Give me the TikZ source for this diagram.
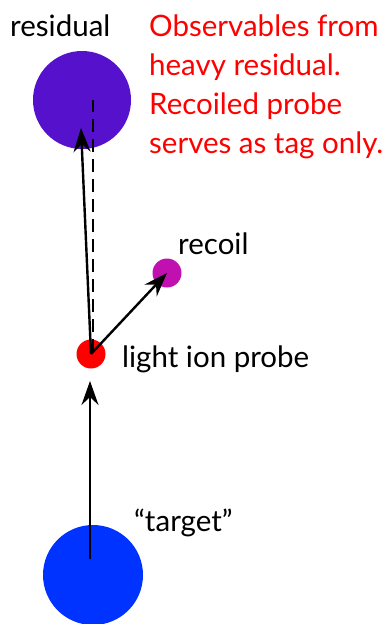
\documentclass[tikz,border=0pt]{standalone}
\usepackage{fontspec}
\setmainfont{Lato}
\usetikzlibrary{arrows.meta}
\definecolor{respurple}{RGB}{85,17,204}
\definecolor{recmag}{RGB}{192,16,176}
\definecolor{tgtblue}{RGB}{0,51,255}
\definecolor{probered}{RGB}{255,0,0}
\tikzset{
  particle/.style={circle, inner sep=0pt, draw=none},
  lbl/.style={anchor=base west, inner sep=0pt, font=\fontsize{29.5}{39}\selectfont, text=black},
  note/.style={anchor=base west, inner sep=0pt, align=left, font=\fontsize{29.5}{39}\selectfont, text=probered},
  vec/.style={line width=2.4pt, -{Stealth[length=24pt, width=17pt, inset=8pt]}},
  trail/.style={line width=2pt, dash pattern=on 13pt off 7pt}
}
\begin{document}
\begin{tikzpicture}[x=1pt, y=-1pt]
\useasboundingbox (0,0) rectangle (389,624);
% particles
\node[particle, fill=respurple, minimum size=98pt] (res) at (82,100) {};
\node[particle, fill=probered, minimum size=29pt] (probe) at (91,354) {};
\node[particle, fill=recmag, minimum size=29pt] (rec) at (167,273) {};
\node[particle, fill=tgtblue, minimum size=100pt] (tgt) at (93,575) {};
% helper coordinates
\coordinate (restip) at (81,128);
\coordinate (dashtop) at (93,100);
\coordinate (tgtstart) at (90,559);
\coordinate (probein) at (90,381);
\coordinate (probedash) at (93,352);
% connectors
\draw[trail] (probedash) -- (dashtop);
\draw[vec] (probe.center) -- (restip);
\draw[vec] (probe.center) -- (rec.center);
\draw[vec] (tgtstart) -- (probein);
% labels
\node[lbl] (lres) at (10,36) {residual};
\node[lbl] (lrec) at (178,254) {recoil};
\node[lbl] (lprobe) at (122,367) {light ion probe};
\node[lbl] (ltgt) at (134,531) {“target”};
\node[note] (obs) at (149,153) {Observables from\\heavy residual.\\Recoiled probe\\serves as tag only.};
\end{tikzpicture}
\end{document}
